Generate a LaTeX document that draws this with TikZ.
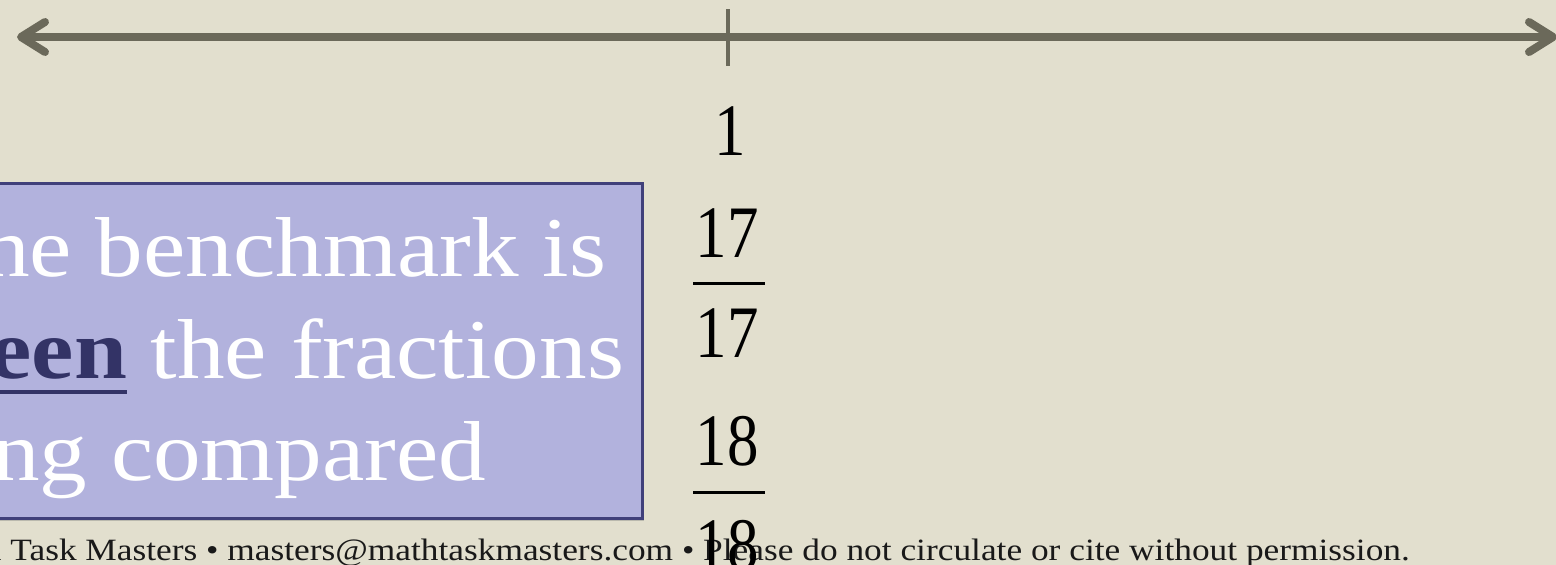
\documentclass[tikz,border=0pt]{standalone}
\usepackage{fontspec}
\usepackage{tikz}
\usepackage{xcolor}
\usetikzlibrary{arrows.meta,shadows}
\setmainfont{Liberation Serif}
\newfontfamily\calloutfont[FakeStretch=1.12]{Liberation Serif}
\newfontfamily\numfont[FakeStretch=0.85]{Liberation Serif}
\newfontfamily\footfont[FakeStretch=1.14]{Liberation Serif}
\definecolor{slidebg}{HTML}{E2DFCE}
\definecolor{linegray}{HTML}{6B695A}
\definecolor{calloutfill}{HTML}{B2B2DD}
\definecolor{calloutdraw}{HTML}{40407A}
\definecolor{benchblue}{HTML}{333366}
\newcommand{\ulword}[1]{\setbox0\hbox{#1}\rlap{\vrule height -12pt depth 16pt width \wd0}\box0}

\begin{document}
\begin{tikzpicture}[x=1pt,y=-1pt,
    numline/.style={line width=8pt, color=linegray, line cap=round},
    tickline/.style={line width=4pt, color=linegray},
    numtext/.style={inner sep=0pt, font=\numfont\fontsize{74}{80}\selectfont},
    fracbar/.style={line width=3pt, color=black},
    callout/.style={draw=calloutdraw, line width=3pt, fill=calloutfill,
        minimum width=842pt, minimum height=335pt, inner sep=0pt, align=center,
        text=white, font=\calloutfont\fontsize{85}{102}\selectfont,
        drop shadow={shadow xshift=2pt, shadow yshift=-3pt, opacity=0.4}},
    foottext/.style={inner sep=0pt, text=black!90, font=\footfont\fontsize{31}{34}\selectfont}]
\clip (0,0) rectangle (1556,565);
\fill[slidebg] (0,0) rectangle (1556,565);

% number line with the tick at 1
\coordinate (lineL) at (17,37);
\coordinate (lineR) at (1557,37);
\draw[numline, {Straight Barb[length=24pt,width=30pt,round]}-{Straight Barb[length=24pt,width=30pt,round]}] (lineL) -- (lineR);
\coordinate (tickT) at (728,9);
\coordinate (tickB) at (728,66);
\draw[tickline] (tickT) -- (tickB);

% footer
\node[foottext, anchor=base east] (credit) at (1410,560) {© Math Task Masters • masters@mathtaskmasters.com • Please do not circulate or cite without permission.};

% callout
\node[callout] (bench) at (221,350.5) {\rule{0pt}{74pt}\hspace*{88pt}The benchmark is\\\hspace*{-24pt}{\color{benchblue}\ulword{\bfseries between}} the fractions\\being compared\hspace*{80pt}};

% values under the tick
\node[numtext, anchor=base] (one) at (730,155) {1};
\node[numtext, anchor=base] (num17) at (727,257) {17};
\node[numtext, anchor=base] (den17) at (727,357) {17};
\draw[fracbar] (693,283) -- (765,283);
\node[numtext, anchor=base] (num18) at (727,465) {18};
\node[numtext, anchor=base] (den18) at (727,569) {18};
\draw[fracbar] (693,492) -- (765,492);
\end{tikzpicture}
\end{document}
